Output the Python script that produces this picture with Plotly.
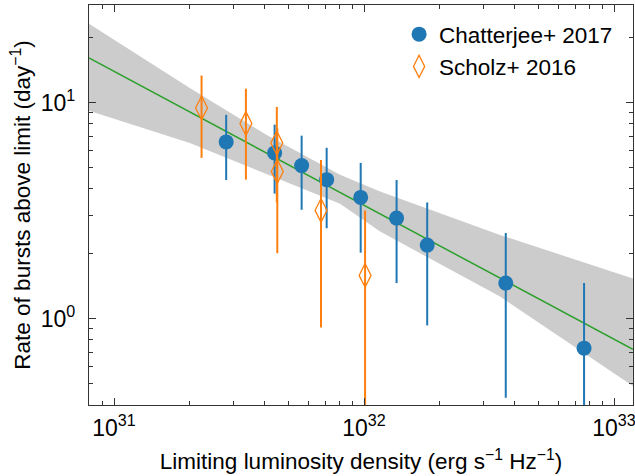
import plotly.graph_objects as go

# ---- data ----
chat_L = [2.81e31, 4.39e31, 5.63e31, 7.09e31, 9.7e31, 1.35e32, 1.79e32, 3.69e32, 7.59e32]
chat_rate = [6.58, 5.85, 5.11, 4.40, 3.64, 2.92, 2.19, 1.46, 0.73]
chat_err = [2.20, 2.06, 1.92, 1.78, 1.62, 1.46, 1.26, 1.03, 0.73]

scholz_L = [2.24e31, 3.37e31, 4.48e31, 4.50e31, 6.73e31, 1.01e32]
scholz_rate = [9.45, 8.0, 6.50, 4.80, 3.17, 1.585]
scholz_err = [3.9, 3.6, 3.05, 2.79, 2.26, 1.585]

fit_L = [7.94e30, 1.19e33]
fit_rate = [16.1, 0.721]

band_L = [7.94e30, 2.01e31, 4.05e31, 8.02e31, 1.16e32, 3.50e32, 1.19e33]
band_upper = [23.2, 11.7, 7.11, 4.63, 3.88, 2.44, 1.535]
band_lower = [9.18, 6.50, 4.69, 3.40, 2.53, 1.265, 0.488]

x_major = [1e31, 1e32, 1e33]
x_major_text = ["10<sup>31</sup>", "10<sup>32</sup>", "10<sup>33</sup>"]
y_major = [1, 10]
y_major_text = ["10<sup>0</sup>", "10<sup>1</sup>"]

BLUE = "#1f77b4"
ORANGE = "#ff7f0e"
GREEN = "#2ca02c"
FONT = "Liberation Sans, Arial, sans-serif"

x_minor = [float(m) * 10.0 ** e for e in (30, 31, 32) for m in range(2, 10)]
y_minor = [float(m) * 10.0 ** e for e in (-1, 0, 1) for m in range(2, 10)]

fig = go.Figure()

# confidence band
fig.add_trace(go.Scatter(
    x=band_L + band_L[::-1],
    y=band_upper + band_lower[::-1],
    fill="toself", fillcolor="rgb(204,204,204)",
    line=dict(width=0), mode="lines",
    hoverinfo="skip", showlegend=False,
))

# fit line
fig.add_trace(go.Scatter(
    x=fit_L, y=fit_rate, mode="lines",
    line=dict(color=GREEN, width=1.5), showlegend=False,
))

# Chatterjee
fig.add_trace(go.Scatter(
    x=chat_L, y=chat_rate, mode="markers", name="Chatterjee+ 2017",
    marker=dict(symbol="circle", size=15, color=BLUE),
    error_y=dict(type="data", array=chat_err, color=BLUE, thickness=2, width=0),
    legendrank=1,
))

# Scholz
fig.add_trace(go.Scatter(
    x=scholz_L, y=scholz_rate, mode="markers", name="Scholz+ 2016",
    marker=dict(symbol="diamond-tall-open", size=17, color=ORANGE,
                line=dict(width=1.3, color=ORANGE)),
    error_y=dict(type="data", array=scholz_err, color=ORANGE, thickness=2, width=0),
    legendrank=2,
))

axis_common = dict(
    type="log",
    automargin=False,
    showgrid=False, zeroline=False,
    showline=True, linecolor="#333", linewidth=1.3, mirror="allticks",
    ticks="inside", ticklen=7, tickwidth=1.2, tickcolor="#333",
    tickfont=dict(family=FONT, size=23, color="black"),
    tickmode="array",
    ticklabeloverflow="allow",
)

fig.update_xaxes(
    **axis_common,
    range=[30.9, 33.076],
    tickvals=x_major, ticktext=x_major_text,
    minor=dict(tickmode="array", tickvals=x_minor, ticks="inside", ticklen=4,
               tickwidth=1, tickcolor="#333", showgrid=False),
    ticklabelstandoff=2,
    title=dict(text="Limiting luminosity density (erg s<sup>−1</sup> Hz<sup>−1</sup>)",
               font=dict(family=FONT, size=22.5, color="black"), standoff=13),
)
fig.update_yaxes(
    **axis_common,
    range=[-0.40, 1.452],
    tickvals=y_major, ticktext=y_major_text,
    minor=dict(tickmode="array", tickvals=y_minor, ticks="inside", ticklen=4,
               tickwidth=1, tickcolor="#333", showgrid=False),
    ticklabelstandoff=8,
    title=dict(text="Rate of bursts above limit (day<sup>−1</sup>)",
               font=dict(family=FONT, size=22.5, color="black"), standoff=3),
)

fig.update_layout(
    width=635, height=476, autosize=False,
    margin=dict(l=89, r=2, t=5, b=71),
    paper_bgcolor="white", plot_bgcolor="white",
    font=dict(family=FONT, size=22, color="black"),
    showlegend=True,
    legend=dict(x=0.57, y=0.98, xanchor="left", yanchor="top",
                bgcolor="rgba(0,0,0,0)", borderwidth=0,
                font=dict(family=FONT, size=22.5, color="black"),
                tracegroupgap=4),
)

fig.write_html(
    "out.html",
    config={"displayModeBar": False},
    post_script="document.body.style.margin='0';document.body.style.overflow='hidden';",
)
